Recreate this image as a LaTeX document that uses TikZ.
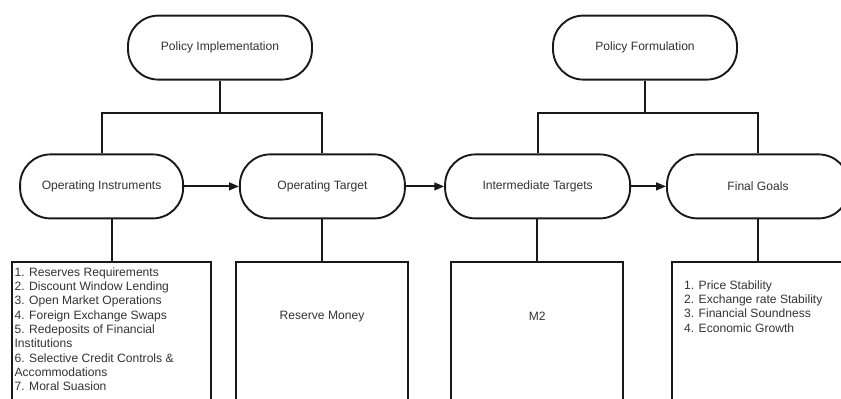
\documentclass[tikz,border=0pt]{standalone}
\usepackage{fontspec}
\setmainfont{Liberation Sans}
\usetikzlibrary{positioning, arrows.meta}

\begin{document}
\begin{tikzpicture}[
        stage/.style={rectangle, rounded corners=0.76cm, draw=black!90, line width=1.35pt, fill=white, minimum height=1.6cm, align=center, font=\fontsize{8.6}{10.2}\selectfont, text=black!80},
        listbox/.style={rectangle, draw=black!90, line width=1.35pt, minimum width=4.3cm, minimum height=3.9cm, anchor=north},
        listtxt/.style={inner sep=0pt, align=left, font=\fontsize{8.6}{10.2}\selectfont, text=black!80},
        link/.style={draw=black!90, line width=1.35pt},
        arr/.style={link, -{Triangle[length=7pt, width=5.5pt]}},
    ]
        \useasboundingbox (0,0) rectangle (21.025,9.95);

        % Policy nodes (top)
        \node[stage, minimum width=4.6cm] (impl) at (5.5,8.76) {Policy Implementation};
        \node[stage, minimum width=4.6cm] (form) at (16.125,8.76) {Policy Formulation};

        % Chain of targets
        \node[stage, minimum width=4.075cm] (instr) at (2.54,5.29) {Operating Instruments};
        \node[stage, minimum width=4.125cm] (optgt) at (8.06,5.29) {Operating Target};
        \node[stage, minimum width=4.625cm] (inter) at (13.44,5.29) {Intermediate Targets};
        \node[stage, minimum width=4.55cm] (goals) at (18.95,5.29) {Final Goals};

        % Content boxes (run off the bottom)
        \node[listbox, minimum width=4.975cm] (instrlist) at (2.79,3.425) {};
        \node[listbox] (moneybox) at (8.05,3.425) {};
        \node[listbox] (mtwobox) at (13.43,3.425) {};
        \node[listbox] (goallist) at (18.95,3.425) {};

        \node[listtxt, below right=0.15cm and 0.08cm of instrlist.north west] (instrtxt) {1. Reserves Requirements\\2. Discount Window Lending\\3. Open Market Operations\\4. Foreign Exchange Swaps\\5. Redeposits of Financial\\Institutions\\6. Selective Credit Controls \&\\Accommodations\\7. Moral Suasion};
        \node[listtxt] (money) at (moneybox.north) [yshift=-1.38cm] {Reserve Money};
        \node[listtxt] (mtwo) at (mtwobox.north) [yshift=-1.38cm] {M2};
        \node[listtxt, below right=0.48cm and 0.32cm of goallist.north west] (goaltxt) {1. Price Stability\\2. Exchange rate Stability\\3. Financial Soundness\\4. Economic Growth};

        % Forks from the policy nodes
        \draw[link] (impl.south) -- ++(0,-0.81) coordinate (ifork);
        \draw[link] (instr.north) |- (ifork) -| (optgt.north);
        \draw[link] (form.south) -- ++(0,-0.81) coordinate (ffork);
        \draw[link] (inter.north) |- (ffork) -| (goals.north);

        % Arrows along the chain
        \draw[arr] (instr) -- (optgt);
        \draw[arr] (optgt) -- (inter);
        \draw[arr] (inter) -- (goals);

        % Stems down to the boxes
        \draw[link] (instrlist.north) -- (instrlist.north |- instr.south);
        \draw[link] (moneybox.north) -- (moneybox.north |- optgt.south);
        \draw[link] (mtwobox.north) -- (mtwobox.north |- inter.south);
        \draw[link] (goallist.north) -- (goallist.north |- goals.south);
    \end{tikzpicture}
\end{document}
